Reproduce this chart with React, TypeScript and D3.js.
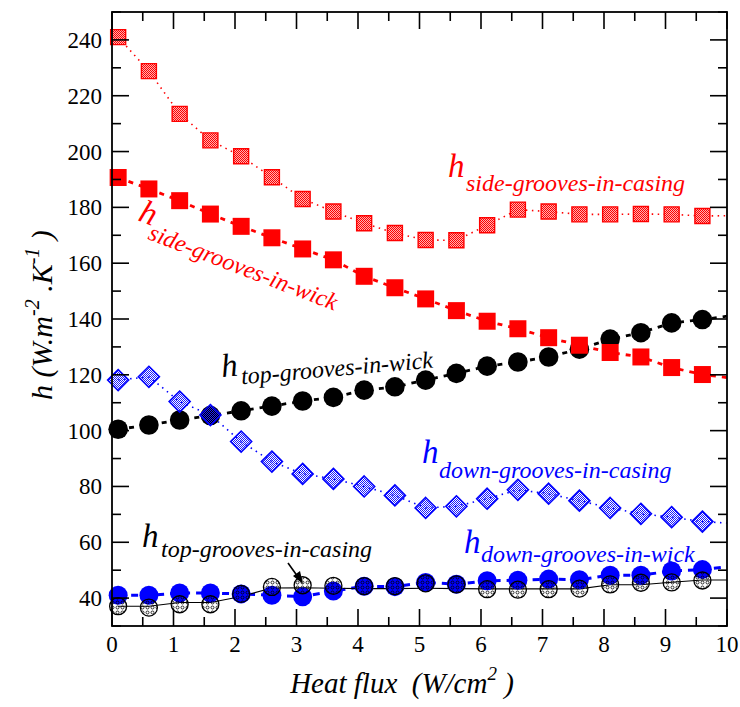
import React from "react";
import * as d3 from "d3";

// ---- data ----
const heatFlux = [0.1, 0.6, 1.1, 1.6, 2.1, 2.6, 3.1, 3.6, 4.1, 4.6, 5.1, 5.6, 6.1, 6.6, 7.1, 7.6, 8.1, 8.6, 9.1, 9.6];
const sideCasing = [241, 228.8, 213.5, 204, 198.3, 190.8, 183, 178.5, 174.3, 170.8, 168.3, 168.2, 173.6, 179.2, 178.5, 177.5, 177.5, 177.6, 177.5, 176.9];
const sideWick = [190.7, 186.6, 182.4, 177.6, 173.2, 169.1, 165.1, 161.2, 155.3, 151.2, 147.2, 143, 139.2, 136.5, 133.3, 130.6, 128, 126.4, 122.6, 120.1];
const topWick = [100.5, 102, 103.8, 105.4, 107.1, 108.8, 110.6, 111.9, 114.5, 115.7, 118.1, 120.5, 123.1, 124.6, 126.4, 129.2, 132.8, 135.1, 138.6, 139.8];
const downCasing = [118.1, 119.3, 110.4, 105.6, 96.1, 88.9, 84.5, 82.7, 80, 76.8, 72.3, 72.9, 75.6, 78.8, 77.4, 74.9, 72.3, 70.2, 69, 67.4];
const downWick = [41, 41, 41.8, 41.8, 41.5, 41, 40.5, 42.5, 44.2, 44.1, 45.6, 45, 46.2, 46.4, 46.8, 46.6, 48.2, 48.2, 49.7, 50.2];
const topCasing = [37.1, 36.6, 37.8, 37.8, 41.5, 44, 44.6, 44.4, 44.3, 44.3, 45.3, 44.9, 43.2, 43, 43.2, 43.4, 44.9, 45.5, 45.6, 46.3];
const topCasingFit = [37.1, 37.1, 38.4, 38.4, 40.6, 43.6, 43.7, 43.5, 43.4, 43.4, 43.5, 43.4, 43.3, 43.3, 43.3, 43.3, 44.8, 44.8, 45.7, 46.5];
// where each connecting line meets the right edge (x = 10)
const edgeX = 10;
const edgeValues = { sideCasing: 177, sideWick: 119, topWick: 141, downCasing: 66.9, downWick: 51.2, topCasingFit: 46.5 };

const xTicks = [0, 1, 2, 3, 4, 5, 6, 7, 8, 9, 10];
const yTicks = [40, 60, 80, 100, 120, 140, 160, 180, 200, 220, 240];

const W = 740, H = 707;
const TF = { fontFamily: '"Liberation Serif"' };
const TFI = { fontFamily: '"Liberation Serif"', fontStyle: "italic", whiteSpace: "pre" } as React.CSSProperties;

export default function App() {
  const x = d3.scaleLinear().domain([0, 10]).range([112, 727]);
  const y = d3.scaleLinear().domain([30, 250]).range([626, 12]);
  const L = x.range()[0], R = x.range()[1], T = y.range()[1], B = y.range()[0];

  const pts = (vals: number[], end: number) =>
    heatFlux.map((h, i) => [h, vals[i]] as [number, number]).concat([[edgeX, end]]);
  const line = d3.line<[number, number]>().x(d => x(d[0])).y(d => y(d[1]));

  const xMinor = d3.range(0, 10.01, 0.5);
  const yMinor = d3.range(30, 251, 10);

  const sq = (cx: number, cy: number, s: number) => `M${cx - s / 2},${cy - s / 2}h${s}v${s}h${-s}Z`;
  const dia = (cx: number, cy: number, r: number) => `M${cx},${cy - r}L${cx + r},${cy}L${cx},${cy + r}L${cx - r},${cy}Z`;

  return (
    <svg width={W} height={H} style={{ display: "block", position: "absolute", left: 0, top: 0 }}>
      <defs>
        <pattern id="redChk" width="2" height="2" patternUnits="userSpaceOnUse">
          <rect x="0" y="0" width="1" height="1" fill="#ff0000" />
          <rect x="1" y="1" width="1" height="1" fill="#ff0000" />
          <rect x="1" y="0" width="1" height="1" fill="#ffb0b0" />
          <rect x="0" y="1" width="1" height="1" fill="#ffb0b0" />
        </pattern>
        <pattern id="blueChk" width="2" height="2" patternUnits="userSpaceOnUse">
          <rect x="0" y="0" width="1" height="1" fill="#1a1aff" />
          <rect x="1" y="1" width="1" height="1" fill="#1a1aff" />
        </pattern>
        <pattern id="dots" width="5" height="5" patternUnits="userSpaceOnUse">
          <circle cx="2.5" cy="2.5" r="1.5" fill="none" stroke="#000" strokeWidth="0.8" />
        </pattern>
      </defs>
      <rect width={W} height={H} fill="#fff" />

      {/* lines */}
      <path d={line(pts(sideCasing, edgeValues.sideCasing)) || ""} fill="none" stroke="#ff0000" strokeWidth={1.6} strokeDasharray="1.5 4.5" />
      <path d={line(pts(sideWick, edgeValues.sideWick)) || ""} fill="none" stroke="#ff0000" strokeWidth={2.8} strokeDasharray="5 6" />
      <path d={line(pts(topWick, edgeValues.topWick)) || ""} fill="none" stroke="#000" strokeWidth={2.8} strokeDasharray="5 6" />
      <path d={line(pts(downCasing, edgeValues.downCasing)) || ""} fill="none" stroke="#0000ff" strokeWidth={1.6} strokeDasharray="1.5 4.5" />
      <path d={line(pts(downWick, edgeValues.downWick)) || ""} fill="none" stroke="#0000ff" strokeWidth={3} strokeDasharray="7 6" />
      <path d={line(pts(topCasingFit, edgeValues.topCasingFit)) || ""} fill="none" stroke="#000" strokeWidth={1.1} />

      {/* markers */}
      {heatFlux.map((h, i) => (
        <circle key={"tw" + i} cx={x(h)} cy={y(topWick[i])} r={9.8} fill="#000" />
      ))}
      {heatFlux.map((h, i) => (
        <path key={"dc" + i} d={dia(x(h), y(downCasing[i]), 10.5)} fill="url(#blueChk)" stroke="#0000ff" strokeWidth={1.6} />
      ))}
      {heatFlux.map((h, i) => (
        <path key={"sc" + i} d={sq(x(h), y(sideCasing[i]), 15)} fill="url(#redChk)" stroke="#ff0000" strokeWidth={1.4} />
      ))}
      {heatFlux.map((h, i) => (
        <path key={"sw" + i} d={sq(x(h), y(sideWick[i]), 17)} fill="#ff0000" />
      ))}
      {heatFlux.map((h, i) => (
        <circle key={"dw" + i} cx={x(h)} cy={y(downWick[i])} r={9.5} fill="#0000ff" />
      ))}
      {heatFlux.map((h, i) => (
        <circle key={"tc" + i} cx={x(h)} cy={y(topCasing[i])} r={8.5} fill="url(#dots)" stroke="#000" strokeWidth={1.3} />
      ))}

      {/* frame */}
      <rect x={L} y={T} width={R - L} height={B - T} fill="none" stroke="#000" strokeWidth={1.8} />
      {xMinor.map((v, i) => {
        const major = Math.abs(v - Math.round(v)) < 1e-6;
        const len = major ? 17 : 9;
        return (
          <g key={"xt" + i} stroke="#000" strokeWidth={1.6}>
            <line x1={x(v)} x2={x(v)} y1={B} y2={B - len} />
            <line x1={x(v)} x2={x(v)} y1={T} y2={T + len} />
          </g>
        );
      })}
      {yMinor.map((v, i) => {
        const major = v % 20 === 0;
        const len = major ? 17 : 9;
        return (
          <g key={"yt" + i} stroke="#000" strokeWidth={1.6}>
            <line x1={L} x2={L + len} y1={y(v)} y2={y(v)} />
            <line x1={R} x2={R - len} y1={y(v)} y2={y(v)} />
          </g>
        );
      })}
      {xTicks.map(v => (
        <text key={"xl" + v} x={x(v)} y={652} textAnchor="middle" fontSize={23} fill="#000" style={TF}>{v}</text>
      ))}
      {yTicks.map(v => (
        <text key={"yl" + v} x={102} y={y(v) + 8} textAnchor="end" fontSize={23} fill="#000" style={TF}>{v}</text>
      ))}

      {/* axis titles */}
      <text x={402} y={693} textAnchor="middle" fontSize={29} fill="#000" style={TFI}>
        {"Heat flux  (W/cm"}<tspan dy={-13} fontSize={19}>2</tspan><tspan dy={13}>{" )"}</tspan>
      </text>
      <text transform={`translate(52,315) rotate(-90)`} textAnchor="middle" fontSize={30} fill="#000" style={TFI}>
        {"h (W.m"}<tspan dy={-13} fontSize={20}>-2</tspan><tspan dy={13}>{" .K"}</tspan><tspan dy={-13} fontSize={20}>-1</tspan><tspan dy={13}>{" )"}</tspan>
      </text>

      {/* series labels */}
      <g fill="#ff0000">
        <text x={448} y={177} fontSize={33} style={TFI}>h</text>
        <text x={466} y={191} fontSize={24} style={TFI}>side-grooves-in-casing</text>
      </g>
      <g fill="#ff0000" transform="translate(137,220) rotate(21)">
        <text x={0} y={0} fontSize={33} style={TFI}>h</text>
        <text x={16} y={14} fontSize={24} style={TFI}>side-grooves-in-wick</text>
      </g>
      <g fill="#000" transform="translate(222,377) rotate(-5)">
        <text x={0} y={0} fontSize={33} style={TFI}>h</text>
        <text x={19} y={9} fontSize={24} style={TFI}>top-grooves-in-wick</text>
      </g>
      <g fill="#0000ff">
        <text x={422} y={463} fontSize={33} style={TFI}>h</text>
        <text x={439} y={478} fontSize={24} style={TFI}>down-grooves-in-casing</text>
      </g>
      <g fill="#0000ff">
        <text x={464} y={553} fontSize={33} style={TFI}>h</text>
        <text x={481} y={562} fontSize={24} style={TFI}>down-grooves-in-wick</text>
      </g>
      <g fill="#000">
        <text x={142} y={547} fontSize={33} style={TFI}>h</text>
        <text x={161} y={557} fontSize={24} style={TFI}>top-grooves-in-casing</text>
      </g>
      {/* arrow to the top-grooves-in-casing marker */}
      <line x1={288} y1={563} x2={298} y2={577} stroke="#000" strokeWidth={1.6} />
      <path d="M303,584 L293,576 L300,571 Z" fill="#000" />
    </svg>
  );
}
